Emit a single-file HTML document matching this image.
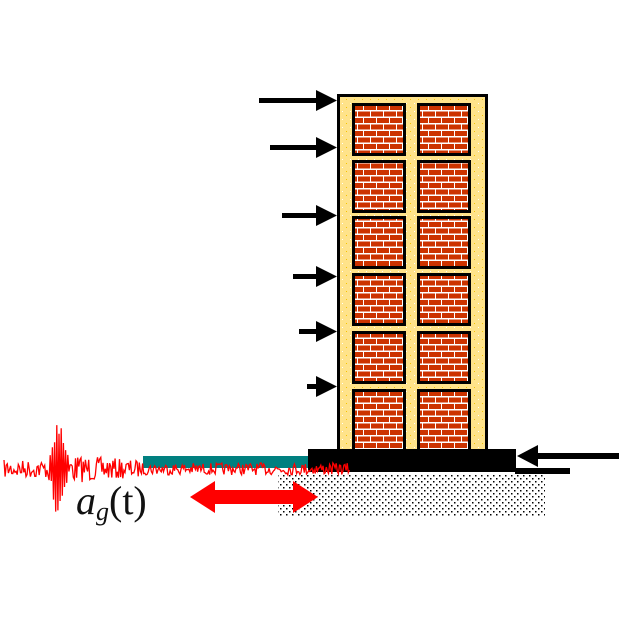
<!DOCTYPE html>
<html><head><meta charset="utf-8"><style>html,body{margin:0;padding:0;background:#fff}svg{display:block}</style></head>
<body>
<svg id="s" width="619" height="620" viewBox="0 0 619 620" xmlns="http://www.w3.org/2000/svg">
<defs>
<pattern id="brick" width="26" height="13" patternUnits="userSpaceOnUse">
<rect width="26" height="13" fill="#fff"/>
<rect x="0" y="1" width="12" height="5" fill="#CC3300"/>
<rect x="13" y="1" width="12" height="5" fill="#CC3300"/>
<rect x="-6" y="7.5" width="12" height="5" fill="#CC3300"/>
<rect x="7" y="7.5" width="12" height="5" fill="#CC3300"/>
<rect x="20" y="7.5" width="12" height="5" fill="#CC3300"/>
</pattern>
<pattern id="dots" width="6" height="6" patternUnits="userSpaceOnUse">
<rect width="6" height="6" fill="#fff"/>
<rect x="1" y="1" width="1.5" height="1.5" fill="#000"/>
<rect x="4" y="4" width="1.5" height="1.5" fill="#000"/>
</pattern>
<pattern id="yel" width="8" height="8" patternUnits="userSpaceOnUse">
<rect width="8" height="8" fill="#FFE38A"/>
<rect x="2" y="3" width="1" height="1" fill="#F5C400"/>
<rect x="6" y="7" width="1" height="1" fill="#fff"/>
</pattern>
</defs>
<rect x="278" y="475" width="267" height="41" fill="url(#dots)"/>
<rect x="338.5" y="95.5" width="148" height="358" fill="url(#yel)" stroke="#000" stroke-width="3"/>
<g fill="url(#brick)" stroke="#000" stroke-width="3">
<rect x="353.5" y="104.5" width="51" height="50"/><rect x="418.5" y="104.5" width="51" height="50"/>
<rect x="353.5" y="161.5" width="51" height="50"/><rect x="418.5" y="161.5" width="51" height="50"/>
<rect x="353.5" y="217.5" width="51" height="50"/><rect x="418.5" y="217.5" width="51" height="50"/>
<rect x="353.5" y="274.5" width="51" height="50"/><rect x="418.5" y="274.5" width="51" height="50"/>
<rect x="353.5" y="332.5" width="51" height="50"/><rect x="418.5" y="332.5" width="51" height="50"/>
<rect x="353.5" y="390.5" width="51" height="62"/><rect x="418.5" y="390.5" width="51" height="62"/>
</g>
<rect x="143" y="456" width="166" height="12" fill="#008080"/>
<rect x="308" y="449" width="208" height="23" fill="#000"/>
<rect x="515" y="468" width="55" height="6" fill="#000"/>
<g fill="#000">
<rect x="259" y="98" width="62" height="5"/><polygon points="316,90 337,100.5 316,111"/>
<rect x="270" y="145" width="51" height="5"/><polygon points="316,137 337,147.5 316,158"/>
<rect x="282" y="213" width="39" height="5"/><polygon points="316,205 337,215.5 316,226"/>
<rect x="293" y="274" width="28" height="5"/><polygon points="316,266 337,276.5 316,287"/>
<rect x="299" y="329" width="22" height="5"/><polygon points="316,321 337,331.5 316,342"/>
<rect x="307" y="384" width="14" height="5"/><polygon points="316,376 337,386.5 316,397"/>
<rect x="533" y="453" width="86" height="6"/><polygon points="538,445 517,456 538,467"/>
</g>
<polygon fill="#f00" points="190,497 215,481 215,490 293,490 293,481 318,497 293,513 293,504 215,504 215,513"/>
<polyline id="sig" fill="none" stroke="#f00" stroke-width="1.3"/>
<text x="76" y="514" font-family="Liberation Serif, serif" font-style="italic" font-size="40" fill="#111">a<tspan font-size="26" dy="6">g</tspan><tspan font-style="normal" font-size="40" dy="-6">(t)</tspan></text>
</svg>
<script>
var p=[],seed=7;function r(){seed=(seed*16807)%2147483647;return seed/2147483647-0.5;}
var i=0;
for(var x=4;x<=350;x+=1.1){var a;i++;
if(x<48)a=9;else if(x<72)a=40*Math.exp(-Math.pow((x-59)/6,2))+12;else if(x<140)a=14-(x-72)*0.08;else a=6;
var y=469+r()*2*a;
if(x>=50&&x<68){y=469+(i%2?-1:1)*a*(0.6+Math.abs(r()));}
y=Math.max(417,Math.min(522,y));
p.push(x.toFixed(1)+","+y.toFixed(1));}
document.getElementById('sig').setAttribute('points',p.join(' '));
</script>
</body></html>
